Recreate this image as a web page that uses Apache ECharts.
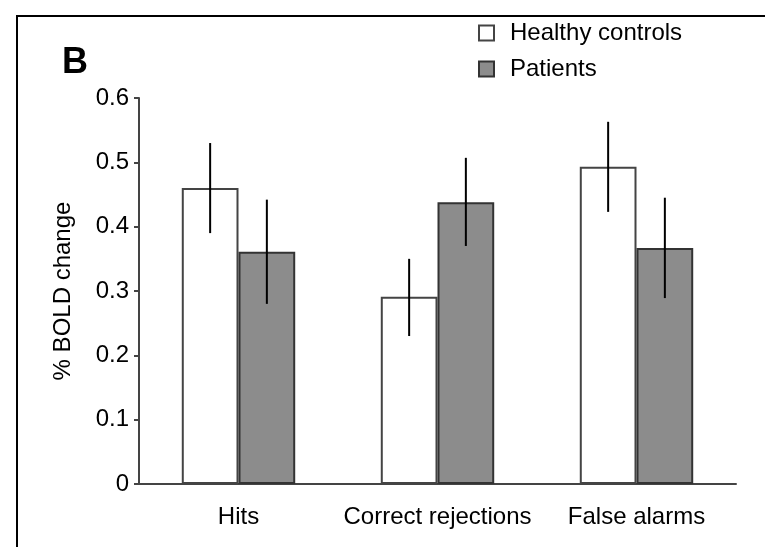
<!DOCTYPE html>
<html><head><meta charset="utf-8">
<script src="https://cdn.jsdelivr.net/npm/echarts@6/dist/echarts.min.js"></script>
<style>html,body{margin:0;padding:0;background:#fff}#c{width:765px;height:547px}</style>
</head><body><div id="c"></div>
<script>
var categories = ['Hits', 'Correct rejections', 'False alarms'];
var healthy = [0.460, 0.291, 0.493];
var patients = [0.361, 0.438, 0.367];
var healthyLow = [0.390, 0.230, 0.423];
var healthyHigh = [0.530, 0.350, 0.563];
var patientsLow = [0.280, 0.370, 0.289];
var patientsHigh = [0.442, 0.507, 0.445];
var yTicks = [0, 0.1, 0.2, 0.3, 0.4, 0.5, 0.6];

var GAP = 0.43;
function errSeries(lows, highs, side) {
  return {
    type: 'custom', z: 5, silent: true,
    data: lows.map(function (l, i) { return [i, l, highs[i]]; }),
    encode: { x: 0, y: [1, 2] },
    renderItem: function (params, api) {
      var band = api.size([1, 0])[0];
      var bw = band * (1 - GAP) / 2;
      var a = api.coord([api.value(0), api.value(1)]);
      var b = api.coord([api.value(0), api.value(2)]);
      var x = a[0] + side * bw / 2;
      return { type: 'line', shape: { x1: x, y1: a[1], x2: x, y2: b[1] },
        style: { stroke: '#000', lineWidth: 2 } };
    }
  };
}

var FONT = 'Liberation Sans, Arial, sans-serif';
var chart = echarts.init(document.getElementById('c'));
chart.setOption({
  animation: false,
  textStyle: { fontFamily: FONT },
  graphic: [
    { type: 'rect', shape: { x: 17, y: 16, width: 800, height: 600 },
      style: { fill: 'none', stroke: '#000', lineWidth: 2 }, z: 0 },
    { type: 'text', left: 62, top: 45,
      style: { text: 'B', fontSize: 36, fontWeight: 'bold', fill: '#000', fontFamily: FONT } }
  ],
  legend: {
    orient: 'vertical', left: 473, top: 16, itemWidth: 15, itemHeight: 15, itemGap: 12,
    icon: 'rect',
    textStyle: { fontSize: 24, color: '#000', padding: [0, 0, 0, 11] },
    data: ['Healthy controls', 'Patients']
  },
  grid: { left: 139, right: 29, top: 98, bottom: 63 },
  xAxis: {
    type: 'category', data: categories,
    axisLine: { lineStyle: { color: '#444', width: 2 } },
    axisTick: { show: false },
    axisLabel: { fontSize: 24, color: '#000', margin: 21, interval: 0 }
  },
  yAxis: {
    type: 'value', min: 0, max: 0.6, interval: 0.1,
    name: '% BOLD change', nameLocation: 'middle', nameGap: 64, nameRotate: 90,
    nameTextStyle: { fontSize: 24, color: '#000' },
    axisLine: { show: true, lineStyle: { color: '#444', width: 2 } },
    axisTick: { show: true, length: 5, lineStyle: { color: '#444', width: 2 } },
    splitLine: { show: false },
    axisLabel: { fontSize: 24, color: '#000', margin: 10,
      formatter: function (v) { return yTicks.indexOf(Math.round(v * 10) / 10) >= 0 ? (v === 0 ? '0' : v.toFixed(1)) : ''; } }
  },
  series: [
    { name: 'Healthy controls', type: 'bar', data: healthy, barGap: '0%', barCategoryGap: '43%',
      itemStyle: { color: '#fff', borderColor: '#444', borderWidth: 2 } },
    { name: 'Patients', type: 'bar', data: patients, barGap: '0%', barCategoryGap: '43%',
      itemStyle: { color: '#8c8c8c', borderColor: '#333', borderWidth: 2 } },
    errSeries(healthyLow, healthyHigh, -1),
    errSeries(patientsLow, patientsHigh, 1)
  ]
});
</script></body></html>
